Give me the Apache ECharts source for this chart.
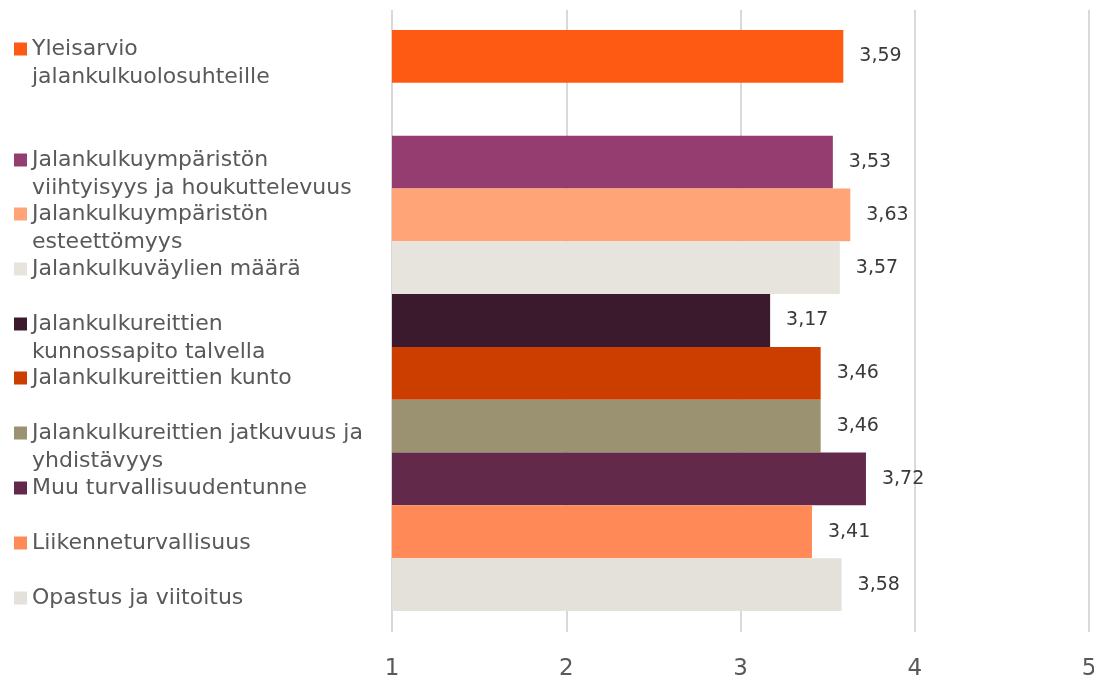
<!DOCTYPE html>
<html>
<head>
<meta charset="utf-8">
<script src="https://cdn.jsdelivr.net/npm/echarts@6/dist/echarts.min.js"></script>
<style>html,body{margin:0;padding:0;background:#fff}#c{width:1094px;height:680px}</style>
</head>
<body>
<div id="c"></div>
<script>
// ---- data ----
const categories = [
  'Yleisarvio jalankulkuolosuhteille',
  'Jalankulkuympäristön viihtyisyys ja houkuttelevuus',
  'Jalankulkuympäristön esteettömyys',
  'Jalankulkuväylien määrä',
  'Jalankulkureittien kunnossapito talvella',
  'Jalankulkureittien kunto',
  'Jalankulkureittien jatkuvuus ja yhdistävyys',
  'Muu turvallisuudentunne',
  'Liikenneturvallisuus',
  'Opastus ja viitoitus'
];
const values = [3.59, 3.53, 3.63, 3.57, 3.17, 3.46, 3.46, 3.72, 3.41, 3.58];
const tickLabels = ['1', '2', '3', '4', '5'];

// ---- layout / style ----
const colors = ['#FF5A13', '#953D70', '#FFA477', '#E7E4DE', '#3B1A2E', '#CC3D00', '#9B9271', '#63294B', '#FF8A57', '#E4E1DA'];
const wrapped = {
  'Yleisarvio jalankulkuolosuhteille': 'Yleisarvio\njalankulkuolosuhteille',
  'Jalankulkuympäristön viihtyisyys ja houkuttelevuus': 'Jalankulkuympäristön\nviihtyisyys ja houkuttelevuus',
  'Jalankulkuympäristön esteettömyys': 'Jalankulkuympäristön\nesteettömyys',
  'Jalankulkureittien kunnossapito talvella': 'Jalankulkureittien\nkunnossapito talvella',
  'Jalankulkureittien jatkuvuus ja yhdistävyys': 'Jalankulkureittien jatkuvuus ja\nyhdistävyys'
};
const legendCenters = [49, 160, 214, 269, 324, 378, 433, 488, 543, 598];
const LH = 28;
const slotCount = 11;
const slotOf = i => (i === 0 ? 0 : i + 1);
const FONT = 'DejaVu Sans';

const slots = Array.from({length: slotCount}, (_, k) => 's' + k);

const series = categories.map((name, i) => {
  const d = new Array(slotCount).fill(null);
  d[slotOf(i)] = values[i];
  return {
    name: name,
    type: 'bar',
    stack: 'all',
    xAxisIndex: 1,
    yAxisIndex: 1,
    barWidth: '100%',
    data: d,
    itemStyle: {color: colors[i]},
    label: {
      show: true,
      position: 'right',
      distance: 16,
      fontFamily: FONT,
      fontSize: 19,
      color: '#3A3A3A',
      formatter: p => (p.value == null ? '' : p.value.toFixed(2).replace('.', ','))
    },
    emphasis: {disabled: true},
    silent: true
  };
});

// two-line names get a blank first line so the marker sits beside the first text line
const legends = categories.map((name, i) => {
  const two = !!wrapped[name];
  return {
    orient: 'vertical',
    left: 14,
    top: two ? legendCenters[i] - 6.5 - LH * 1.5 + 6.5 : legendCenters[i] - LH / 2,
    padding: 0,
    itemWidth: 13,
    itemHeight: 13,
    itemGap: 0,
    icon: 'rect',
    selectedMode: false,
    data: [name],
    formatter: n => (wrapped[n] ? '\u00a0\n' + wrapped[n] : n),
    textStyle: {
      fontFamily: FONT,
      fontSize: 22,
      lineHeight: LH,
      color: '#595959'
    }
  };
});

const chart = echarts.init(document.getElementById('c'), null, {renderer: 'canvas'});
chart.setOption({
  animation: false,
  backgroundColor: '#fff',
  legend: legends,
  grid: [
    {left: 392, right: 5, top: 10, bottom: 48, outerBoundsMode: 'none', containLabel: false},
    {left: 392, right: 5, top: 30, bottom: 69, outerBoundsMode: 'none', containLabel: false}
  ],
  xAxis: [
    {
      type: 'value', gridIndex: 0, min: 1, max: 5, interval: 1,
      axisLine: {show: false}, axisTick: {show: false},
      splitLine: {show: true, lineStyle: {color: '#D9D9D9', width: 2}},
      axisLabel: {
        margin: 26, fontFamily: FONT, fontSize: 23, color: '#595959',
        formatter: v => tickLabels[Math.round(v) - 1]
      }
    },
    {
      type: 'value', gridIndex: 1, min: 1, max: 5, interval: 1, show: false,
      splitLine: {show: false}
    }
  ],
  yAxis: [
    {type: 'value', gridIndex: 0, show: false, splitLine: {show: false}},
    {type: 'category', gridIndex: 1, data: slots, inverse: true, show: false}
  ],
  series: series
});
</script>
</body>
</html>
